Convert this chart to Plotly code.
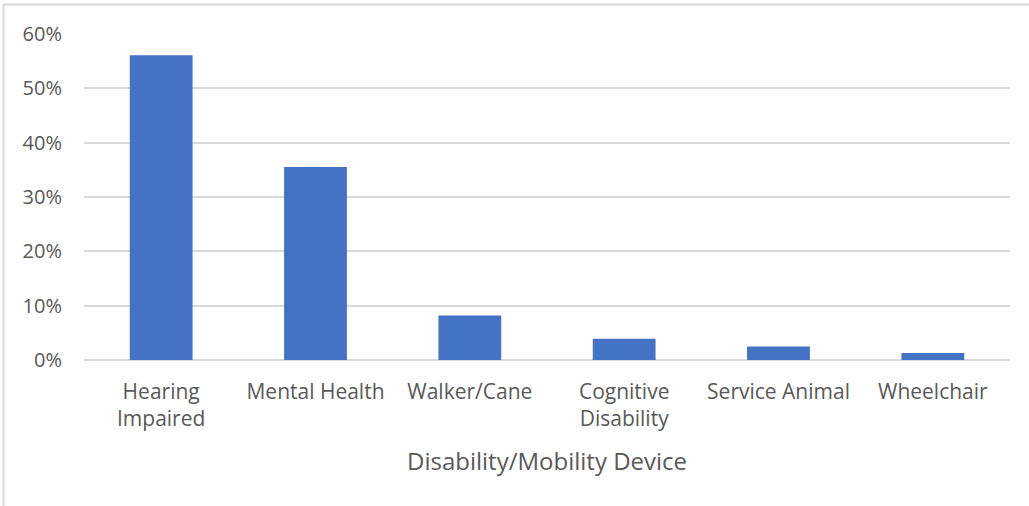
import plotly.graph_objects as go

categories = ["Hearing<br>Impaired", "Mental Health", "Walker/Cane", "Cognitive<br>Disability", "Service Animal", "Wheelchair"]
values = [0.561, 0.355, 0.082, 0.039, 0.025, 0.013]
y_ticks = [0, 0.1, 0.2, 0.3, 0.4, 0.5, 0.6]
x_title = "Disability/Mobility Device"

font_family = "Open Sans"
gray = "#595959"

L, R, T, B = 84, 19, 34, 146
W, H = 1029, 506
pw, ph = W - L - R, H - T - B

fig = go.Figure()
fig.add_trace(go.Bar(
    x=categories, y=values,
    marker=dict(color="#4472C4", line=dict(width=0)),
    hoverinfo="skip",
))

fig.update_layout(
    width=W, height=H,
    margin=dict(l=L, r=R, t=T, b=B),
    paper_bgcolor="white", plot_bgcolor="white",
    bargap=0.593,
    showlegend=False,
    font=dict(family=font_family, size=21, color=gray),
    xaxis=dict(
        showgrid=False, showline=False, zeroline=False, ticks="",
        tickfont=dict(size=21, color=gray), ticklabelstandoff=17,
        automargin=False,
    ),
    yaxis=dict(
        range=[0, 0.6], tickvals=y_ticks, tickformat=".0%",
        showgrid=True, gridcolor="#D9D9D9", gridwidth=1.5,
        zeroline=True, zerolinecolor="#D9D9D9", zerolinewidth=1.5,
        showline=False, ticks="", ticklabelstandoff=21,
        tickfont=dict(size=20, color=gray), automargin=False,
    ),
    annotations=[dict(
        text=x_title, xref="paper", yref="paper", x=0.5, y=(T + ph - 460) / ph,
        xanchor="center", yanchor="middle", showarrow=False,
        font=dict(size=24, color=gray),
    )],
    shapes=[
        dict(type="line", xref="paper", yref="paper",
             x0=(3 - L) / pw, x1=(W + 5 - L) / pw,
             y0=(T + ph - 4.5) / ph, y1=(T + ph - 4.5) / ph,
             line=dict(color="#D9D9D9", width=2), layer="below"),
        dict(type="line", xref="paper", yref="paper",
             x0=(3.5 - L) / pw, x1=(3.5 - L) / pw,
             y0=(T + ph - 4.5) / ph, y1=(T + ph - H - 5) / ph,
             line=dict(color="#D9D9D9", width=2), layer="below"),
    ],
)

fig.write_html(
    "out.html",
    config={"displayModeBar": False},
    post_script="document.body.style.margin='0';document.body.style.overflow='hidden';",
)
